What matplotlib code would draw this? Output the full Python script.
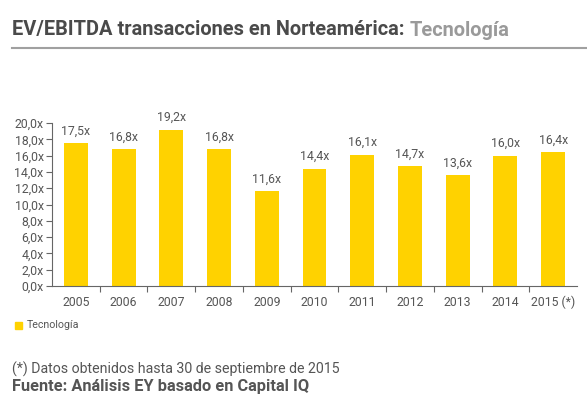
import matplotlib
matplotlib.use("Agg")
import matplotlib.pyplot as plt
from matplotlib.lines import Line2D
from matplotlib.patches import Rectangle

years = ["2005", "2006", "2007", "2008", "2009", "2010", "2011", "2012", "2013", "2014", "2015 (*)"]
values = [17.5, 16.8, 19.2, 16.8, 11.6, 14.4, 16.1, 14.7, 13.6, 16.0, 16.4]
yticks = [0, 2, 4, 6, 8, 10, 12, 14, 16, 18, 20]
series_name = "Tecnología"

YELLOW = "#FFD200"
TXT = "#555555"

plt.rcParams['font.family'] = ['Roboto', 'DejaVu Sans']

fig = plt.figure(figsize=(5.87, 4.0), dpi=100)
ax = fig.add_axes([52/587, 1-286/400, (577-52)/587, (286-123)/400])

x = list(range(len(years)))
bars = ax.bar(x, values, width=0.5, color=YELLOW, zorder=2)
for xi, v in zip(x, values):
    ax.text(xi, v + 0.7, f"{v:.1f}x".replace(".", ","), ha="center", va="bottom",
            fontsize=8.8, color=TXT)

ax.set_xlim(-0.5, len(years) - 0.5)
ax.set_ylim(0, 20)
ax.set_yticks(yticks)
ax.set_yticklabels([f"{t:.1f}x".replace(".", ",") for t in yticks], fontsize=8.8, color=TXT)
ax.set_xticks(x)
ax.set_xticklabels(years, fontsize=8.8, color=TXT)
ax.tick_params(axis="x", length=0, pad=7)
ax.set_xticks([i + 0.5 for i in range(len(years) - 1)], minor=True)
ax.tick_params(axis="x", which="minor", length=4, color="#666666", width=0.8, direction="out")
ax.tick_params(axis="y", length=4, color="#666666", width=0.8, pad=2)
for s in ["top", "right"]:
    ax.spines[s].set_visible(False)
for s in ["left", "bottom"]:
    ax.spines[s].set_color("#666666")
    ax.spines[s].set_linewidth(0.8)

# title
fig.text(12/587, 1-30/400, "EV/EBITDA transacciones en Norteamérica:", fontsize=14.4,
         fontweight="bold", color="#4a4a4a", va="center", ha="left")
t1 = fig.texts[-1]
fig.canvas.draw()
bb = t1.get_window_extent()
fig.text((bb.x1 + 5)/587, 1-30/400, "Tecnología", fontsize=14.4, fontweight="bold",
         color="#9a9a9a", va="center", ha="left")
fig.add_artist(Line2D([12/587, 1.0], [1-48/400, 1-48/400], color="#a0a0a0", lw=1.5,
                      transform=fig.transFigure))

# legend
fig.add_artist(Rectangle((15/587, 1-329/400), 7/587, 7/400, color=YELLOW,
                         transform=fig.transFigure))
fig.text(27/587, 1-325.5/400, series_name, fontsize=7.7, color=TXT, va="center", ha="left")

fig.text(12/587, 1-369/400, "(*) Datos obtenidos hasta 30 de septiembre de 2015",
         fontsize=10.2, color="#555555", va="center", ha="left")
fig.text(12/587, 1-386/400, "Fuente: Análisis EY basado en Capital IQ",
         fontsize=11.8, fontweight="bold", color="#555555", va="center", ha="left")

fig.savefig("out.png", dpi=100)
